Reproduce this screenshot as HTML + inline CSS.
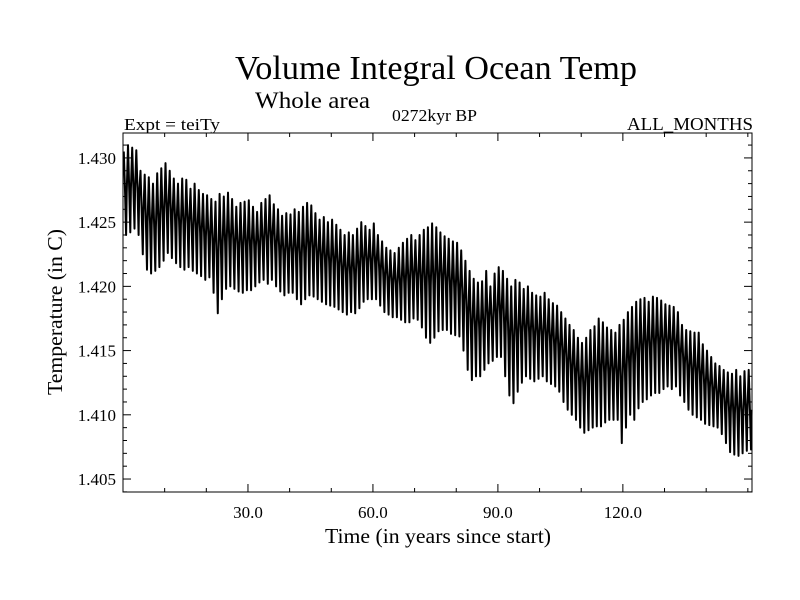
<!DOCTYPE html>
<html><head><meta charset="utf-8">
<style>
html,body{margin:0;padding:0;background:#fff;}
svg{display:block;font-family:"Liberation Serif",serif;}
</style></head>
<body>
<svg id="chart" width="800" height="600" viewBox="0 0 800 600">
  <rect width="800" height="600" fill="#fff"/>
  <text x="235" y="79" font-size="34" textLength="402" lengthAdjust="spacingAndGlyphs">Volume Integral Ocean Temp</text>
  <text x="255" y="108" font-size="23" textLength="115" lengthAdjust="spacingAndGlyphs">Whole area</text>
  <text x="124" y="130" font-size="17" textLength="96" lengthAdjust="spacingAndGlyphs">Expt = teiTy</text>
  <text x="392" y="121" font-size="17" textLength="85" lengthAdjust="spacingAndGlyphs">0272kyr BP</text>
  <text x="627" y="130" font-size="18" textLength="126" lengthAdjust="spacingAndGlyphs">ALL_MONTHS</text>
  <g id="axes"></g>
  <g id="series"></g>
  <rect x="123" y="133" width="629" height="359" fill="none" stroke="#000" stroke-width="1"/>
  <text x="0" y="0" font-size="21" text-anchor="middle" textLength="166" lengthAdjust="spacingAndGlyphs" transform="translate(62,312) rotate(-90)">Temperature (in C)</text>
  <text x="325" y="543" font-size="21" textLength="226" lengthAdjust="spacingAndGlyphs">Time (in years since start)</text>
</svg>
<script>
const xTicks = [30, 60, 90, 120];
const xTickLabels = ["30.0", "60.0", "90.0", "120.0"];
const yTicks = [1.405, 1.410, 1.415, 1.420, 1.425, 1.430];
const yTickLabels = ["1.405", "1.410", "1.415", "1.420", "1.425", "1.430"];
const annualMax = [
1.4305,1.4310,1.4308,1.4306,1.4290,1.4287,1.4285,1.4280,1.4288,1.4292,
1.4296,1.4290,1.4284,1.4280,1.4284,1.4283,1.4276,1.4280,1.4275,1.4272,
1.4271,1.4268,1.4266,1.4272,1.4270,1.4273,1.4268,1.4262,1.4265,1.4266,
1.4267,1.4262,1.4258,1.4265,1.4268,1.4271,1.4264,1.4260,1.4255,1.4257,
1.4256,1.4260,1.4258,1.4262,1.4265,1.4263,1.4257,1.4252,1.4254,1.4250,
1.4252,1.4248,1.4244,1.4240,1.4242,1.4240,1.4245,1.4250,1.4247,1.4244,
1.4249,1.4240,1.4235,1.4230,1.4228,1.4226,1.4230,1.4234,1.4237,1.4240,
1.4236,1.4240,1.4244,1.4246,1.4249,1.4246,1.4242,1.4239,1.4237,1.4235,
1.4234,1.4228,1.4220,1.4212,1.4206,1.4203,1.4204,1.4212,1.4200,1.4210,
1.4215,1.4212,1.4206,1.4200,1.4205,1.4203,1.4198,1.4200,1.4195,1.4193,
1.4192,1.4195,1.4190,1.4187,1.4185,1.4180,1.4175,1.4170,1.4166,1.4160,
1.4156,1.4160,1.4166,1.4169,1.4175,1.4172,1.4168,1.4166,1.4164,1.4170,
1.4174,1.4180,1.4184,1.4188,1.4190,1.4191,1.4188,1.4192,1.4191,1.4189,
1.4186,1.4185,1.4184,1.4180,1.4170,1.4166,1.4165,1.4164,1.4164,1.4155,
1.4150,1.4145,1.4140,1.4138,1.4135,1.4133,1.4132,1.4135,1.4130,1.4134,
1.4135];
const annualMin = [
1.4240,1.4242,1.4245,1.4240,1.4225,1.4213,1.4210,1.4212,1.4215,1.4220,
1.4226,1.4222,1.4218,1.4215,1.4213,1.4215,1.4212,1.4210,1.4208,1.4205,
1.4207,1.4195,1.4179,1.4190,1.4198,1.4200,1.4198,1.4196,1.4195,1.4197,
1.4197,1.4200,1.4203,1.4205,1.4202,1.4205,1.4200,1.4196,1.4193,1.4195,
1.4195,1.4190,1.4186,1.4190,1.4193,1.4192,1.4190,1.4188,1.4186,1.4185,
1.4184,1.4182,1.4180,1.4178,1.4180,1.4179,1.4183,1.4188,1.4190,1.4190,
1.4190,1.4185,1.4180,1.4178,1.4176,1.4176,1.4174,1.4172,1.4172,1.4175,
1.4174,1.4168,1.4160,1.4156,1.4160,1.4165,1.4166,1.4166,1.4163,1.4162,
1.4161,1.4150,1.4135,1.4127,1.4130,1.4130,1.4135,1.4140,1.4142,1.4145,
1.4145,1.4130,1.4115,1.4109,1.4118,1.4125,1.4130,1.4128,1.4126,1.4128,
1.4130,1.4126,1.4124,1.4122,1.4118,1.4110,1.4104,1.4100,1.4096,1.4090,
1.4086,1.4088,1.4090,1.4091,1.4091,1.4094,1.4096,1.4096,1.4096,1.4078,
1.4090,1.4100,1.4096,1.4105,1.4110,1.4112,1.4115,1.4117,1.4117,1.4120,
1.4122,1.4120,1.4122,1.4115,1.4110,1.4104,1.4100,1.4098,1.4096,1.4093,
1.4092,1.4091,1.4090,1.4085,1.4078,1.4071,1.4069,1.4068,1.4070,1.4072,
1.4073];

const NS = "http://www.w3.org/2000/svg";
const L = 123, R = 752, T = 133, B = 492;
const X0 = 0, X1 = 151, Y0 = 1.40399, Y1 = 1.43194;
function xs(v){ return L + (v - X0) / (X1 - X0) * (R - L); }
function ys(v){ return B - (v - Y0) / (Y1 - Y0) * (B - T); }
function mk(tag, attrs, parent){
  const e = document.createElementNS(NS, tag);
  for (const k in attrs) e.setAttribute(k, attrs[k]);
  parent.appendChild(e);
  return e;
}
const axes = document.getElementById('axes');
for (let v = 10; v < X1; v += 10) {
  const major = xTicks.indexOf(v) >= 0;
  const len = major ? 8 : 4;
  const t1 = mk('line', {x1: xs(v), x2: xs(v), y1: B, y2: B - len, stroke: '#000'}, axes);
  
  
  const t2 = mk('line', {x1: xs(v), x2: xs(v), y1: T, y2: T + len, stroke: '#000'}, axes);
  
  
}
xTicks.forEach((v, i) => {
  const t = mk('text', {x: xs(v), y: 518, 'font-size': 17, 'text-anchor': 'middle'}, axes);
  t.textContent = xTickLabels[i];
  
  
});
for (let k = 1404; k <= 1431; k++) {
  const v = k / 1000;
  const major = k % 5 === 0;
  const len = major ? 8 : 4;
  const a = mk('line', {x1: L, x2: L + len, y1: ys(v), y2: ys(v), stroke: '#000'}, axes);
  
  
  const b = mk('line', {x1: R, x2: R - len, y1: ys(v), y2: ys(v), stroke: '#000'}, axes);
  
  
}
yTicks.forEach((v, i) => {
  const t = mk('text', {x: 116, y: ys(v) + 6, 'font-size': 17, 'text-anchor': 'end'}, axes);
  t.textContent = yTickLabels[i];
  
  
});
const pts = [];
for (let i = 0; i < annualMax.length; i++) {
  pts.push(xs(i + 0.2).toFixed(1) + ',' + ys(annualMax[i]).toFixed(1));
  pts.push(xs(i + 0.5).toFixed(1) + ',' + ys((annualMax[i] + annualMin[i]) / 2).toFixed(1));
  pts.push(xs(i + 0.75).toFixed(1) + ',' + ys(annualMin[i]).toFixed(1));
  pts.push(xs(i + 0.9).toFixed(1) + ',' + ys((annualMax[i] + annualMin[i]) / 2).toFixed(1));
}
const line = mk('polyline', {points: pts.join(' '), fill: 'none', stroke: '#000', 'stroke-width': 2, 'stroke-linejoin': 'round'}, document.getElementById('series'));


</script>
</body></html>
